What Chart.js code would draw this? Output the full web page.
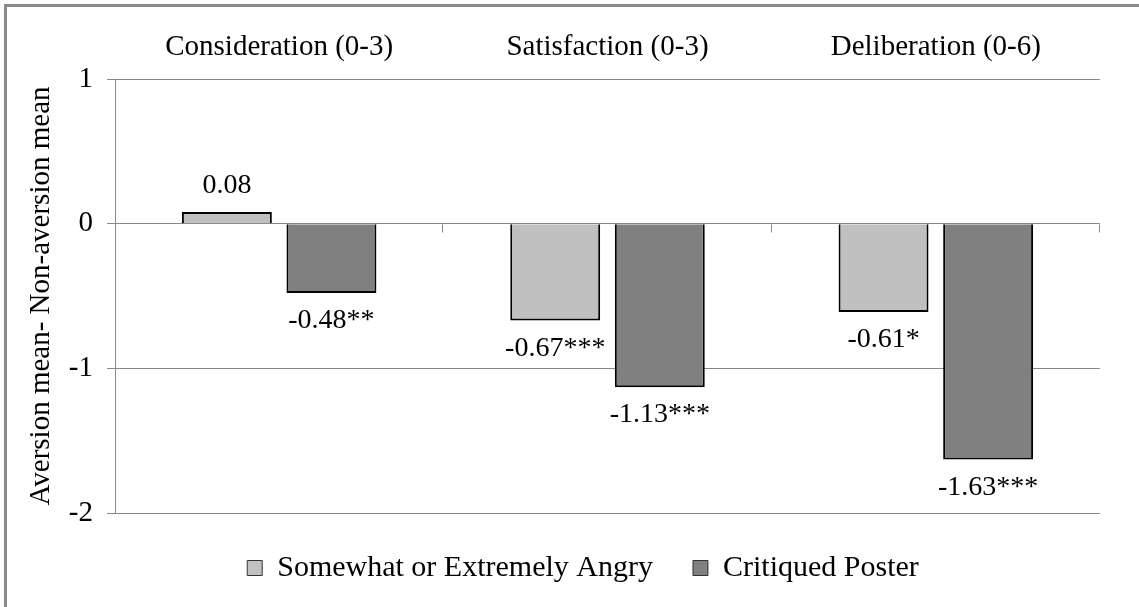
<!DOCTYPE html>
<html>
<head>
<meta charset="utf-8">
<script src="https://cdn.jsdelivr.net/npm/chart.js@4/dist/chart.umd.min.js"></script>
<style>
  body { margin: 0; background: #fff; }
  canvas { display: block; }
</style>
</head>
<body>
<canvas id="chart" width="1139" height="607"></canvas>
<script>
  // data
  const categories = ['Consideration (0-3)', 'Satisfaction (0-3)', 'Deliberation (0-6)'];
  const angryValues = [0.08, -0.67, -0.61];
  const posterValues = [-0.48, -1.13, -1.63];
  const angryStars = ['', '***', '*'];
  const posterStars = ['**', '***', '***'];
  const yTicks = [1, 0, -1, -2];

  const FONT = '"Liberation Serif", "Times New Roman", serif';
  const GRID = '#888888';

  const frame = {
    id: 'frame',
    beforeDraw(chart) {
      const c = chart.ctx;
      c.save();
      c.fillStyle = '#fff';
      c.fillRect(0, 0, chart.width, chart.height);
      c.strokeStyle = '#8a8a8a';
      c.lineWidth = 3;
      c.strokeRect(5.5, 5.5, chart.width + 20, chart.height + 20);
      c.restore();
    }
  };

  // nudge the legend a bit right, like the original
  const legendShift = {
    id: 'legendShift',
    afterLayout(chart) {
      if (chart.legend) {
        chart.legend.left += 28;
        chart.legend.right += 28;
      }
    }
  };

  // little tick marks hanging under the zero line at category boundaries
  const zeroTicks = {
    id: 'zeroTicks',
    afterDatasetsDraw(chart) {
      const x = chart.scales.x, y = chart.scales.y;
      const y0 = Math.round(y.getPixelForValue(0)) + 0.5;
      const c = chart.ctx;
      c.save();
      c.strokeStyle = GRID;
      c.lineWidth = 1;
      c.beginPath();
      for (let i = 0; i < categories.length; i++) {
        const px = Math.round(x.getPixelForValue(i + 0.5)) - 0.5;
        c.moveTo(px, y0);
        c.lineTo(px, y0 + 8);
      }
      c.stroke();
      c.restore();
    }
  };

  const valueLabels = {
    id: 'valueLabels',
    afterDatasetsDraw(chart) {
      const c = chart.ctx;
      c.save();
      c.font = '28px ' + FONT;
      c.fillStyle = '#000';
      c.textAlign = 'center';
      chart.data.datasets.forEach((ds, di) => {
        const meta = chart.getDatasetMeta(di);
        meta.data.forEach((bar, i) => {
          const v = ds.data[i];
          const txt = v.toFixed(2) + ds.stars[i];
          if (v >= 0) {
            c.textBaseline = 'bottom';
            c.fillText(txt, bar.x, bar.y - 12);
          } else {
            c.textBaseline = 'top';
            c.fillText(txt, bar.x, bar.y + 14);
          }
        });
      });
      c.restore();
    }
  };

  new Chart(document.getElementById('chart'), {
    type: 'bar',
    data: {
      labels: categories,
      datasets: [{
        label: 'Somewhat or Extremely Angry',
        data: angryValues,
        stars: angryStars,
        backgroundColor: '#c0c0c0',
        borderColor: '#000',
        borderWidth: 2,
        borderSkipped: 'start'
      }, {
        label: 'Critiqued Poster',
        data: posterValues,
        stars: posterStars,
        backgroundColor: '#808080',
        borderColor: '#000',
        borderWidth: 2,
        borderSkipped: 'start'
      }]
    },
    options: {
      responsive: false,
      animation: false,
      layout: { padding: { top: 10, left: 10, right: 39, bottom: 14 } },
      datasets: {
        bar: { categoryPercentage: 0.637, barPercentage: 0.86 }
      },
      scales: {
        x: {
          position: 'top',
          grid: { display: false },
          border: { display: false },
          ticks: {
            color: '#000',
            font: { family: FONT, size: 29 },
            padding: 6
          },
          afterFit(s) { s.height = 69; }
        },
        y: {
          min: -2,
          max: 1,
          afterBuildTicks(s) { s.ticks = yTicks.map(v => ({ value: v })); },
          grid: { color: GRID, tickLength: 8, lineWidth: 1 },
          border: { color: GRID, width: 1 },
          ticks: {
            color: '#000',
            font: { family: FONT, size: 29 },
            padding: 14
          },
          title: {
            display: true,
            text: 'Aversion mean- Non-aversion mean',
            color: '#000',
            font: { family: FONT, size: 29 },
            padding: { top: 14, bottom: 0 }
          },
          afterFit(s) { s.width = 105; }
        }
      },
      plugins: {
        tooltip: { enabled: false },
        legend: {
          position: 'bottom',
          labels: {
            color: '#000',
            font: { family: FONT, size: 30 },
            boxWidth: 15,
            boxHeight: 15,
            padding: 40,
            generateLabels(chart) {
              const items = Chart.defaults.plugins.legend.labels.generateLabels(chart);
              items.forEach(it => { it.lineWidth = 1; it.strokeStyle = '#333'; });
              return items;
            }
          }
        }
      }
    },
    plugins: [frame, legendShift, zeroTicks, valueLabels]
  });
</script>
</body>
</html>
